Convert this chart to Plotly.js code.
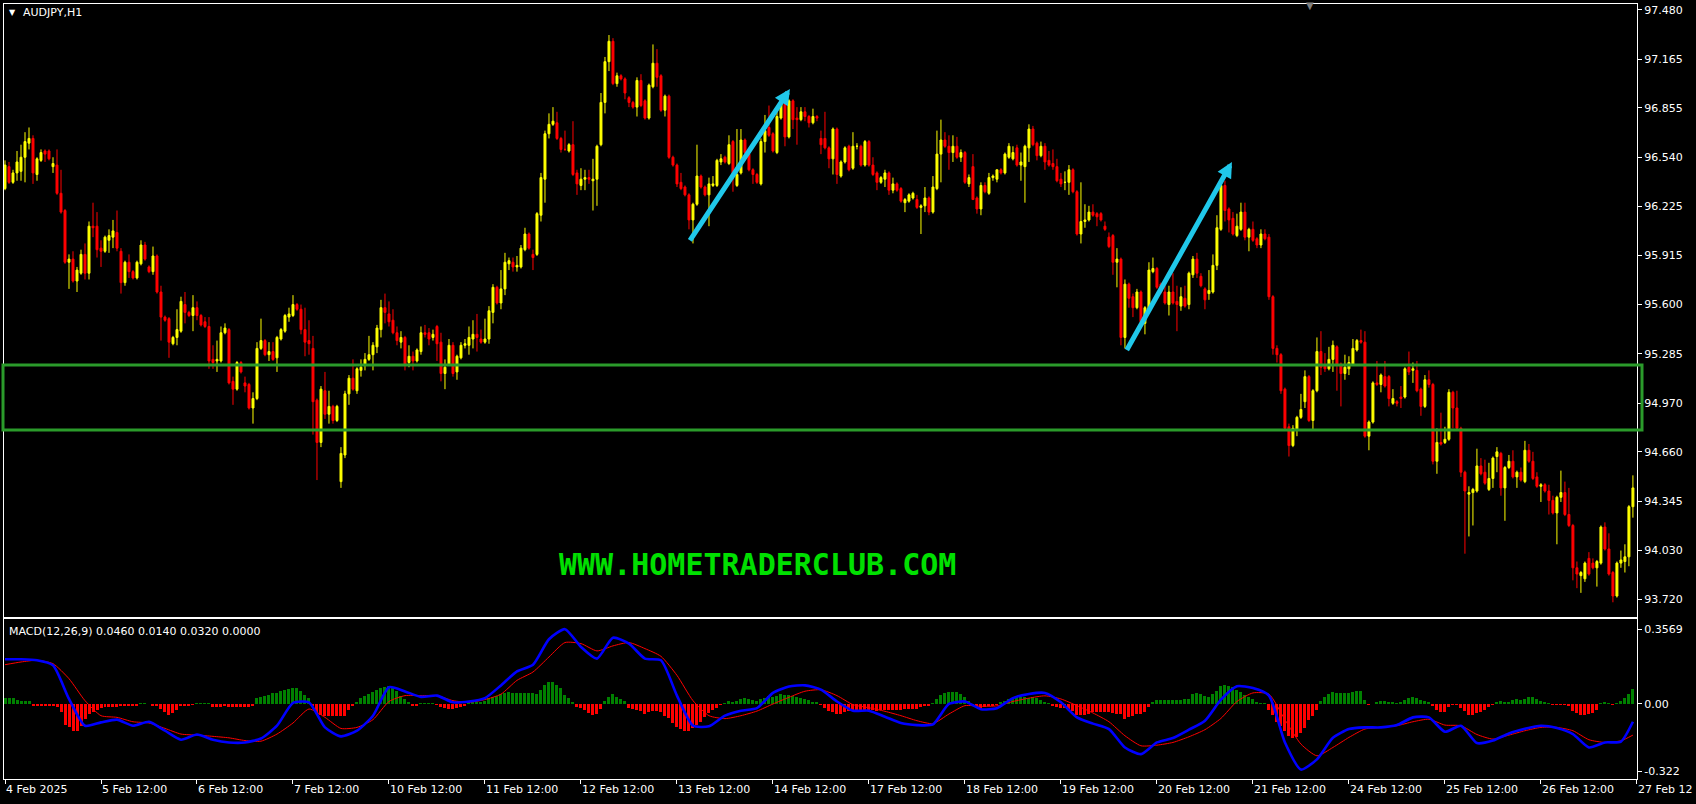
<!DOCTYPE html>
<html><head><meta charset="utf-8">
<script src="https://cdn.plot.ly/plotly-3.0.1.min.js"></script>
<style>html,body{margin:0;padding:0;background:#000;overflow:hidden}#chart{width:1696px;height:804px}</style>
</head><body><div id="chart"></div>
<script>
// ---- AUDJPY H1 candles (one per hour, bar 0 = 4 Feb 12:00) ----
const open=[
96.34,96.48,96.38,96.44,96.45,96.54,96.63,96.66,96.43,96.52,96.58,96.58,
96.48,96.49,96.31,96.20,95.87,95.89,95.75,95.80,95.92,95.80,96.10,96.10,
95.96,95.94,96.01,96.03,96.06,95.94,95.74,95.87,95.81,95.77,95.86,95.98,
95.84,95.81,95.91,95.68,95.52,95.51,95.35,95.39,95.43,95.60,95.55,95.53,
95.58,95.53,95.49,95.46,95.25,95.24,95.24,95.42,95.44,95.11,95.06,95.23,
95.10,95.09,94.94,95.00,95.32,95.37,95.28,95.30,95.26,95.38,95.43,95.52,
95.53,95.60,95.57,95.44,95.37,95.32,94.99,94.72,95.05,94.90,94.95,94.86,
94.47,94.64,95.03,95.13,95.05,95.18,95.22,95.25,95.28,95.33,95.44,95.58,
95.54,95.50,95.42,95.36,95.39,95.23,95.27,95.24,95.30,95.42,95.42,95.39,
95.46,95.36,95.16,95.22,95.34,95.17,95.26,95.34,95.34,95.38,95.41,95.38,
95.36,95.38,95.55,95.71,95.61,95.70,95.86,95.87,95.84,95.84,95.95,96.05,
95.92,95.92,96.17,96.40,96.69,96.75,96.76,96.66,96.59,96.58,96.62,96.44,
96.36,96.40,96.41,96.39,96.40,96.62,96.89,97.15,97.28,97.01,97.06,97.04,
96.92,96.89,96.86,97.03,96.90,96.79,96.99,97.14,97.06,96.84,96.93,96.54,
96.49,96.38,96.35,96.30,96.14,96.24,96.42,96.35,96.30,96.36,96.36,96.51,
96.54,96.50,96.64,96.36,96.44,96.65,96.56,96.46,96.43,96.37,96.64,96.73,
96.69,96.57,96.79,96.89,96.67,96.90,96.79,96.78,96.83,96.80,96.76,96.80,
96.66,96.66,96.60,96.53,96.72,96.42,96.51,96.61,96.47,96.61,96.61,96.49,
96.64,96.49,96.44,96.38,96.40,96.44,96.33,96.37,96.34,96.25,96.26,96.28,
96.27,96.22,96.23,96.28,96.19,96.34,96.56,96.65,96.61,96.57,96.61,96.54,
96.57,96.37,96.48,96.28,96.21,96.36,96.31,96.41,96.40,96.46,96.44,96.54,
96.53,96.60,96.49,96.48,96.60,96.72,96.63,96.55,96.61,96.52,96.50,96.48,
96.40,96.38,96.38,96.46,96.32,96.05,96.13,96.14,96.19,96.18,96.18,96.10,
96.03,96.04,95.87,95.89,95.39,95.73,95.65,95.58,95.68,95.48,95.57,95.81,
95.83,95.73,95.68,95.60,95.68,95.62,95.59,95.64,95.60,95.79,95.89,95.78,
95.70,95.67,95.68,95.85,96.08,96.36,96.21,96.15,96.04,96.08,96.19,96.03,
96.08,96.02,95.98,96.05,96.03,95.65,95.32,95.28,95.06,94.82,94.70,94.80,
94.88,94.98,95.14,94.86,95.05,95.30,95.21,95.19,95.25,95.33,95.22,95.16,
95.19,95.22,95.31,95.37,95.36,94.76,94.85,95.10,95.09,95.14,95.14,94.97,
94.98,95.01,95.01,95.20,95.18,95.18,95.06,94.95,95.12,95.09,94.60,94.72,
94.72,94.74,95.04,94.94,94.81,94.53,94.39,94.40,94.41,94.57,94.53,94.42,
94.49,94.63,94.65,94.43,94.56,94.60,94.50,94.53,94.47,94.67,94.60,94.50,
94.44,94.45,94.41,94.35,94.27,94.37,94.40,94.26,94.19,93.92,93.87,93.85,
93.98,93.95,93.92,93.95,94.18,94.04,93.89,93.74,93.95,93.96,93.99,94.31];
const high=[
96.52,96.51,96.46,96.58,96.62,96.70,96.73,96.68,96.54,96.59,96.59,96.59,
96.54,96.59,96.46,96.21,95.92,95.94,95.84,95.95,95.99,96.13,96.25,96.19,
96.01,96.04,96.08,96.14,96.20,95.96,95.88,95.92,95.82,95.88,96.01,96.00,
95.85,95.97,95.92,95.72,95.53,95.52,95.40,95.57,95.65,95.68,95.56,95.66,
95.62,95.54,95.52,95.52,95.34,95.37,95.46,95.48,95.45,95.14,95.24,95.24,
95.14,95.10,95.04,95.36,95.51,95.38,95.36,95.36,95.40,95.45,95.54,95.58,
95.66,95.61,95.60,95.58,95.50,95.40,95.00,95.08,95.17,95.05,94.96,94.96,
94.69,95.05,95.15,95.25,95.20,95.25,95.29,95.40,95.36,95.47,95.63,95.67,
95.62,95.57,95.46,95.43,95.40,95.34,95.30,95.32,95.46,95.47,95.45,95.44,
95.47,95.42,95.25,95.38,95.36,95.28,95.36,95.38,95.46,95.50,95.54,95.44,
95.51,95.59,95.73,95.72,95.82,95.93,95.90,95.90,95.91,95.98,96.09,96.06,
95.95,96.19,96.44,96.71,96.82,96.86,96.83,96.67,96.71,96.63,96.77,96.46,
96.47,96.46,96.46,96.53,96.62,96.95,97.18,97.32,97.30,97.08,97.07,97.05,
96.93,96.90,97.05,97.07,96.91,97.01,97.26,97.23,97.07,96.94,96.94,96.55,
96.50,96.44,96.36,96.31,96.25,96.62,96.43,96.36,96.41,96.42,96.53,96.56,
96.55,96.68,96.65,96.72,96.72,96.66,96.57,96.47,96.44,96.66,96.81,96.87,
96.70,96.86,96.91,96.90,96.91,96.91,96.86,96.86,96.86,96.81,96.85,96.81,
96.71,96.83,96.61,96.73,96.73,96.52,96.61,96.62,96.70,96.63,96.62,96.65,
96.65,96.54,96.45,96.42,96.46,96.45,96.41,96.38,96.35,96.28,96.31,96.32,
96.30,96.24,96.35,96.29,96.42,96.71,96.78,96.70,96.68,96.68,96.67,96.59,
96.58,96.43,96.56,96.29,96.38,96.38,96.44,96.43,96.46,96.47,96.57,96.63,
96.61,96.62,96.57,96.62,96.75,96.74,96.64,96.64,96.63,96.58,96.59,96.53,
96.44,96.45,96.49,96.47,96.33,96.38,96.24,96.23,96.24,96.19,96.19,96.13,
96.06,96.05,95.96,95.90,95.76,95.74,95.67,95.70,95.69,95.59,95.87,95.90,
95.84,95.74,95.72,95.72,95.80,95.72,95.71,95.72,95.81,95.91,95.93,95.80,
95.71,95.82,95.92,96.17,96.39,96.39,96.22,96.19,96.18,96.25,96.25,96.09,
96.13,96.03,96.08,96.08,96.05,95.66,95.34,95.29,95.07,94.84,94.83,94.89,
95.03,95.18,95.15,95.06,95.39,95.43,95.29,95.33,95.37,95.34,95.23,95.28,
95.27,95.38,95.38,95.44,95.43,94.86,95.11,95.24,95.16,95.24,95.15,95.06,
94.99,95.08,95.20,95.30,95.23,95.24,95.07,95.15,95.18,95.10,94.81,94.91,
94.82,95.06,95.05,95.05,94.82,94.54,94.44,94.43,94.68,94.62,94.61,94.59,
94.63,94.69,94.66,94.57,94.64,94.67,94.54,94.56,94.73,94.71,94.66,94.53,
94.46,94.46,94.45,94.38,94.38,94.54,94.47,94.43,94.20,93.96,93.90,93.96,
94.02,93.98,93.97,94.19,94.21,94.14,93.90,93.96,94.03,94.07,94.32,94.51];
const low=[
96.33,96.37,96.37,96.39,96.39,96.38,96.59,96.37,96.39,96.51,96.51,96.52,
96.44,96.30,96.18,95.86,95.70,95.74,95.68,95.79,95.76,95.76,96.03,95.90,
95.84,95.93,95.93,95.96,95.94,95.67,95.72,95.77,95.76,95.76,95.85,95.88,
95.80,95.79,95.67,95.37,95.49,95.26,95.34,95.34,95.42,95.48,95.52,95.43,
95.50,95.46,95.45,95.19,95.19,95.17,95.23,95.41,95.09,94.96,95.05,95.16,
95.04,94.93,94.84,94.99,95.31,95.27,95.24,95.24,95.17,95.37,95.42,95.49,
95.52,95.56,95.41,95.27,95.28,94.77,94.48,94.69,94.87,94.84,94.84,94.85,
94.43,94.62,94.96,95.05,95.03,95.14,95.18,95.24,95.18,95.29,95.39,95.48,
95.46,95.41,95.34,95.32,95.18,95.20,95.18,95.23,95.28,95.39,95.34,95.37,
95.24,95.11,95.06,95.21,95.14,95.12,95.25,95.32,95.28,95.32,95.30,95.35,
95.35,95.35,95.48,95.60,95.57,95.66,95.82,95.81,95.81,95.83,95.94,95.95,
95.82,95.91,96.13,96.25,96.66,96.74,96.65,96.57,96.58,96.57,96.42,96.30,
96.33,96.33,96.37,96.20,96.23,96.61,96.82,97.09,97.00,96.99,97.03,96.91,
96.86,96.85,96.80,96.86,96.78,96.78,96.98,96.99,96.83,96.80,96.53,96.48,
96.35,96.33,96.29,96.08,95.99,96.23,96.34,96.29,96.10,96.35,96.35,96.49,
96.50,96.49,96.32,96.35,96.43,96.56,96.45,96.37,96.37,96.36,96.57,96.67,
96.57,96.56,96.78,96.61,96.66,96.72,96.62,96.77,96.77,96.73,96.75,96.77,
96.56,96.59,96.47,96.43,96.37,96.41,96.50,96.45,96.46,96.59,96.48,96.48,
96.48,96.42,96.33,96.37,96.35,96.30,96.31,96.32,96.25,96.19,96.25,96.27,
96.21,96.05,96.19,96.17,96.18,96.33,96.38,96.60,96.46,96.51,96.53,96.51,
96.37,96.35,96.27,96.18,96.17,96.31,96.30,96.39,96.38,96.43,96.43,96.53,
96.52,96.48,96.39,96.25,96.51,96.61,96.52,96.54,96.46,96.48,96.46,96.38,
96.35,96.33,96.30,96.31,96.04,95.99,96.09,96.13,96.16,96.10,96.13,96.07,
95.96,95.79,95.71,95.34,95.32,95.58,95.52,95.57,95.47,95.41,95.56,95.80,
95.70,95.67,95.60,95.53,95.60,95.43,95.56,95.58,95.57,95.77,95.77,95.71,
95.57,95.63,95.67,95.82,96.07,96.13,96.06,96.04,96.03,96.07,96.01,95.94,
96.00,95.96,95.96,96.01,95.63,95.28,95.23,95.03,94.80,94.63,94.69,94.76,
94.87,94.94,94.85,94.80,95.04,95.15,95.17,95.18,95.17,95.05,94.95,95.12,
95.15,95.21,95.30,95.35,94.75,94.67,94.84,95.08,95.04,95.07,94.95,94.96,
94.95,94.94,95.00,95.15,95.10,95.04,94.89,94.94,95.07,94.58,94.52,94.70,
94.71,94.73,94.81,94.80,94.50,94.01,94.12,94.19,94.40,94.51,94.45,94.41,
94.43,94.53,94.38,94.22,94.55,94.49,94.43,94.47,94.46,94.59,94.48,94.43,
94.34,94.40,94.26,94.26,94.07,94.34,94.25,94.18,93.84,93.79,93.76,93.83,
93.87,93.91,93.80,93.94,94.03,93.87,93.70,93.73,93.92,93.89,93.93,94.24];
const close=[
96.49,96.38,96.44,96.51,96.54,96.64,96.66,96.44,96.53,96.57,96.56,96.53,
96.50,96.31,96.19,95.87,95.89,95.75,95.82,95.92,95.80,96.10,96.09,95.95,
95.94,96.03,96.04,96.07,95.96,95.74,95.87,95.81,95.77,95.87,95.98,95.89,
95.81,95.91,95.68,95.52,95.50,95.36,95.39,95.44,95.62,95.55,95.53,95.58,
95.53,95.47,95.46,95.24,95.23,95.25,95.42,95.45,95.10,95.06,95.23,95.17,
95.08,94.94,95.00,95.32,95.37,95.28,95.30,95.25,95.39,95.44,95.53,95.54,
95.60,95.57,95.44,95.36,95.35,94.98,94.72,95.06,94.90,94.95,94.86,94.95,
94.65,95.03,95.13,95.06,95.19,95.20,95.25,95.28,95.34,95.45,95.58,95.55,
95.49,95.42,95.37,95.39,95.22,95.27,95.24,95.31,95.42,95.41,95.38,95.41,
95.35,95.16,95.20,95.34,95.16,95.27,95.34,95.35,95.39,95.41,95.39,95.36,
95.38,95.56,95.71,95.61,95.70,95.87,95.88,95.84,95.85,95.96,96.05,95.96,
95.90,96.18,96.41,96.69,96.75,96.77,96.66,96.59,96.59,96.62,96.43,96.37,
96.40,96.41,96.40,96.40,96.61,96.89,97.15,97.28,97.01,97.06,97.04,96.95,
96.89,96.86,97.03,96.87,96.79,97.00,97.14,97.05,96.84,96.93,96.54,96.49,
96.37,96.34,96.30,96.14,96.24,96.42,96.35,96.30,96.37,96.37,96.52,96.53,
96.51,96.62,96.43,96.43,96.65,96.57,96.46,96.43,96.38,96.64,96.71,96.68,
96.58,96.80,96.89,96.67,96.90,96.78,96.78,96.83,96.80,96.76,96.80,96.79,
96.62,96.60,96.53,96.72,96.43,96.51,96.60,96.46,96.61,96.61,96.49,96.64,
96.49,96.43,96.38,96.41,96.44,96.33,96.37,96.33,96.26,96.27,96.30,96.31,
96.22,96.23,96.28,96.19,96.35,96.56,96.65,96.61,96.57,96.61,96.54,96.57,
96.38,96.41,96.27,96.21,96.36,96.32,96.41,96.42,96.46,96.44,96.56,96.61,
96.57,96.49,96.51,96.61,96.72,96.62,96.55,96.61,96.51,96.49,96.48,96.39,
96.37,96.38,96.46,96.32,96.05,96.13,96.14,96.19,96.17,96.16,96.14,96.08,
95.97,95.87,95.89,95.39,95.73,95.64,95.58,95.68,95.49,95.58,95.82,95.83,
95.71,95.68,95.61,95.68,95.61,95.60,95.65,95.59,95.80,95.89,95.80,95.72,
95.63,95.69,95.85,96.09,96.36,96.20,96.14,96.05,96.10,96.19,96.03,96.08,
96.01,95.98,96.05,96.02,95.65,95.32,95.28,95.05,94.81,94.70,94.81,94.88,
94.93,95.14,94.86,95.05,95.30,95.20,95.19,95.25,95.34,95.22,95.16,95.20,
95.23,95.32,95.37,95.36,94.76,94.85,95.10,95.09,95.15,95.08,95.00,95.00,
94.97,95.00,95.19,95.17,95.19,95.05,94.95,95.12,95.09,94.60,94.72,94.71,
94.74,95.04,94.94,94.81,94.53,94.41,94.40,94.42,94.57,94.52,94.46,94.49,
94.62,94.66,94.43,94.56,94.60,94.50,94.53,94.48,94.67,94.60,94.49,94.44,
94.45,94.41,94.35,94.27,94.37,94.40,94.26,94.19,93.92,93.88,93.89,93.95,
93.88,93.92,93.96,94.18,94.04,93.88,93.74,93.95,93.97,93.99,94.31,94.43];

// ---- MACD(12,26,9): main & signal lines read every 4th bar (last = bar 407) ----
const macdMain=[
0.214,0.214,0.209,0.185,0.024,-0.104,-0.088,-0.075,-0.104,-0.085,
-0.128,-0.171,-0.146,-0.171,-0.184,-0.184,-0.165,-0.104,0.005,0.008,
-0.112,-0.155,-0.128,-0.056,0.08,0.06,0.034,0.04,0.008,0.012,
0.028,0.089,0.156,0.188,0.31,0.358,0.273,0.217,0.317,0.289,
0.217,0.209,0.04,-0.104,-0.107,-0.056,-0.032,-0.02,0.053,0.084,
0.089,0.069,0.012,-0.032,-0.032,-0.061,-0.091,-0.101,-0.098,0.0,
0.012,-0.025,-0.02,0.028,0.048,0.053,0.008,-0.064,-0.094,-0.12,
-0.208,-0.24,-0.184,-0.163,-0.123,-0.08,0.021,0.085,0.076,0.04,
-0.184,-0.314,-0.265,-0.162,-0.12,-0.112,-0.112,-0.101,-0.064,-0.064,
-0.133,-0.104,-0.187,-0.175,-0.141,-0.119,-0.104,-0.115,-0.144,-0.208,
-0.184,-0.18,-0.085];
const macdSignal=[
0.188,0.201,0.209,0.193,0.121,0.016,-0.056,-0.064,-0.085,-0.091,
-0.117,-0.144,-0.149,-0.155,-0.162,-0.175,-0.178,-0.144,-0.091,-0.024,
-0.064,-0.117,-0.112,-0.075,0.012,0.04,0.04,0.04,0.016,0.008,
0.021,0.047,0.113,0.153,0.225,0.294,0.289,0.254,0.278,0.294,
0.265,0.228,0.137,0.016,-0.056,-0.07,-0.056,-0.034,0.0,0.032,
0.061,0.068,0.04,-0.003,-0.018,-0.035,-0.056,-0.08,-0.094,-0.048,
-0.008,-0.011,-0.009,0.012,0.028,0.039,0.024,-0.008,-0.043,-0.085,
-0.152,-0.2,-0.197,-0.184,-0.157,-0.123,-0.069,0.012,0.053,0.047,
-0.075,-0.192,-0.248,-0.208,-0.16,-0.12,-0.112,-0.104,-0.085,-0.073,
-0.101,-0.104,-0.146,-0.168,-0.149,-0.128,-0.112,-0.112,-0.128,-0.171,
-0.184,-0.176,-0.149];
// histogram, one value per bar
const macdHist=[
.03,.03,.03,.02,.015,.015,.015,-.01,-.01,-.01,-.01,-.01,
-.01,-.016,-.04,-.10,-.11,-.13,-.13,-.105,-.07,-.05,-.04,-.03,
-.017,-.016,-.016,-.016,-.016,-.012,-.012,-.012,-.012,-.012,.003,.003,
.002,-.008,-.008,-.024,-.04,-.053,-.045,-.028,-.01,-.008,-.008,-.005,
.003,.003,.003,.003,-.016,-.016,-.016,-.01,-.016,-.016,-.016,-.016,
-.016,-.016,-.012,.03,.035,.04,.043,.053,.053,.064,.069,.072,
.075,.075,.064,.043,.03,-.01,-.045,-.053,-.056,-.056,-.056,-.056,
-.056,-.056,-.03,-.008,.011,.027,.04,.048,.058,.069,.075,.08,
.085,.08,.064,.04,.024,.011,-.011,-.008,.003,.003,.003,.003,
-.005,-.016,-.021,-.024,-.024,-.021,-.016,-.01,.011,.011,.011,.011,
.016,.027,.032,.04,.048,.053,.056,.053,.053,.053,.053,.053,
.053,.05,.069,.091,.104,.104,.091,.075,.043,.03,.01,-.015,
-.02,-.03,-.045,-.055,-.05,-.025,.015,.035,.047,.035,.025,.013,
-.02,-.025,-.027,-.035,-.047,-.04,-.032,-.032,-.04,-.056,-.069,-.09,
-.11,-.12,-.128,-.13,-.117,-.10,-.085,-.06,-.045,-.03,-.018,-.005,
.006,.016,.011,.016,.024,.027,.024,.02,.013,.024,.03,.037,
.032,.04,.048,.043,.043,.038,.032,.027,.026,.018,.011,.008,
-.005,-.02,-.032,-.04,-.048,-.048,-.04,-.035,-.03,-.028,-.03,-.027,
-.03,-.03,-.032,-.03,-.028,-.03,-.03,-.027,-.028,-.025,-.024,-.024,
-.024,-.016,-.011,-.011,.005,.024,.043,.053,.056,.056,.056,.048,
.032,.014,-.005,-.016,-.021,-.016,-.011,-.008,-.003,.008,.014,.024,
.029,.032,.033,.032,.031,.032,.027,.02,.011,.005,-.008,-.013,
-.019,-.021,-.024,-.032,-.053,-.053,-.053,-.048,-.037,-.037,-.037,-.037,
-.037,-.043,-.048,-.05,-.072,-.064,-.056,-.048,-.048,-.04,-.016,.011,
.021,.02,.021,.02,.019,.02,.021,.022,.025,.047,.053,.047,
.04,.035,.05,.063,.085,.092,.088,.082,.069,.056,.042,.035,
.024,.008,.005,.005,-.027,-.053,-.085,-.107,-.128,-.152,-.165,-.159,
-.14,-.114,-.075,-.056,-.027,.016,.034,.05,.058,.053,.053,.053,
.053,.056,.061,.064,.02,-.006,.002,.008,.016,.016,.011,.008,
.005,.008,.021,.027,.032,.027,.021,.014,.01,-.008,-.029,-.037,
-.037,-.016,-.005,-.004,-.018,-.035,-.051,-.053,-.043,-.037,-.027,-.014,
-.006,.01,.014,.011,.011,.021,.024,.021,.026,.035,.034,.024,
.016,.011,.005,-.005,-.005,-.006,-.005,-.011,-.032,-.043,-.053,-.051,
-.047,-.042,-.027,.005,.008,.003,-.005,.005,.014,.027,.047,.072];

// ---- axis labels (the last one is shown as far as it fits, like the reference) ----
const dateLabels=["4 Feb 2025","5 Feb 12:00","6 Feb 12:00","7 Feb 12:00","10 Feb 12:00","11 Feb 12:00",
"12 Feb 12:00","13 Feb 12:00","14 Feb 12:00","17 Feb 12:00","18 Feb 12:00","19 Feb 12:00",
"20 Feb 12:00","21 Feb 12:00","24 Feb 12:00","25 Feb 12:00","26 Feb 12:00","27 Feb 12"];
const priceTicks=[97.480,97.165,96.855,96.540,96.225,95.915,95.600,95.285,94.970,94.660,94.345,94.030,93.720];
const macdTicks=[0.3569,0.0,-0.322];
const macdTickText=["0.3569","0.00","-0.322"];

// drawn objects on the chart
const zoneLevels=[94.799,95.214];
const arrowTails=[[171,96.00],[280.25,95.30]];
const arrowHeads=[[196.25,96.975],[306.75,96.51]];

// ---- build ----
const N=close.length;
const bars=close.map((_,i)=>i);
const macdX=macdMain.map((_,k)=>k<macdMain.length-1?k*4:N-1);
const dateTickVals=dateLabels.map((_,k)=>k*24);

const W=1696,H=804,ML=4,MR=59,MT=4,MB=25;
const PW=W-ML-MR, PH=H-MT-MB;
const px=x=>(x-ML)/PW, py=y=>(H-MB-y)/PH;

const WHITE='#ffffff';
const fnt={family:'DejaVu Sans',size:11,color:WHITE};

const traces=[
{type:'candlestick',x:bars,open:open,high:high,low:low,close:close,xaxis:'x',yaxis:'y',
 increasing:{line:{color:'#ffff00',width:1},fillcolor:'#ffff00'},
 decreasing:{line:{color:'#ff0000',width:1},fillcolor:'#ff0000'},
 whiskerwidth:0,hoverinfo:'skip',showlegend:false},
{type:'bar',x:bars,y:macdHist,xaxis:'x2',yaxis:'y2',width:0.75,
 marker:{color:macdHist.map(v=>v>=0?'#008000':'#ff0000'),line:{width:0}},hoverinfo:'skip',showlegend:false},
{type:'scatter',mode:'lines',x:macdX,y:macdSignal,xaxis:'x2',yaxis:'y2',line:{color:'#ff0000',width:1,shape:'spline',smoothing:0.6},hoverinfo:'skip',showlegend:false},
{type:'scatter',mode:'lines',x:macdX,y:macdMain,xaxis:'x2',yaxis:'y2',line:{color:'#0000ff',width:2.6,shape:'spline',smoothing:0.6},hoverinfo:'skip',showlegend:false}
];

const mainTop=1, mainBot=(H-MB-617)/PH, macdTop=(H-MB-619)/PH;
const xr=[-0.25,408.02];

const annotations=[
 {xref:'paper',yref:'paper',x:px(12),y:py(12),text:'▼',showarrow:false,font:{family:'DejaVu Sans',size:8,color:WHITE},xanchor:'center',yanchor:'middle'},
 {xref:'paper',yref:'paper',x:px(21),y:py(12),text:'AUDJPY,H1',showarrow:false,font:fnt,xanchor:'left',yanchor:'middle'},
 {xref:'paper',yref:'paper',x:px(1310),y:py(6),text:'▼',showarrow:false,font:{family:'DejaVu Sans',size:10,color:'#808080'},xanchor:'center',yanchor:'middle'},
 {xref:'paper',yref:'paper',x:px(7),y:py(631),text:'MACD(12,26,9) 0.0460 0.0140 0.0320 0.0000',showarrow:false,font:fnt,xanchor:'left',yanchor:'middle'},
 {xref:'paper',yref:'paper',x:px(757),y:py(564.5),text:'WWW.HOMETRADERCLUB.COM',showarrow:false,
  font:{family:'DejaVu Sans Mono',size:30,color:'#00e000',weight:'bold'},xanchor:'center',yanchor:'middle'}
];
arrowTails.forEach((t,k)=>{
 annotations.push({xref:'x',yref:'y',axref:'x',ayref:'y',x:arrowHeads[k][0],y:arrowHeads[k][1],ax:t[0],ay:t[1],
  text:'',showarrow:true,arrowhead:2,arrowsize:0.62,arrowwidth:5,arrowcolor:'#20c8ea',standoff:0,startstandoff:0});
});

const axCommon={showgrid:false,zeroline:false,showline:true,mirror:true,linecolor:WHITE,linewidth:1,fixedrange:true};

const layout={
 width:W,height:H,paper_bgcolor:'#000000',plot_bgcolor:'#000000',
 margin:{l:ML,r:MR,t:MT,b:MB,pad:0},showlegend:false,
 font:fnt,boxgap:0.3,boxgroupgap:0.3,bargap:0,
 xaxis:Object.assign({},axCommon,{domain:[0,1],anchor:'y',range:xr,showticklabels:false,ticks:'',rangeslider:{visible:false}}),
 xaxis2:Object.assign({},axCommon,{domain:[0,1],anchor:'y2',range:xr,matches:'x',tickmode:'array',tickvals:dateTickVals,ticktext:dateLabels,
   ticks:'outside',ticklen:4,tickcolor:WHITE,tickwidth:1,ticklabelposition:'outside right',ticklabeloverflow:'allow',tickfont:fnt,rangeslider:{visible:false}}),
 yaxis:Object.assign({},axCommon,{domain:[mainBot,mainTop],anchor:'x',side:'right',range:[93.606,97.518],tickmode:'array',
   tickvals:priceTicks,ticktext:priceTicks.map(v=>v.toFixed(3)),ticks:'outside',ticklen:4,tickcolor:WHITE,tickfont:fnt}),
 yaxis2:Object.assign({},axCommon,{domain:[0,macdTop],anchor:'x2',side:'right',range:[-0.359,0.4067],tickmode:'array',
   tickvals:macdTicks,ticktext:macdTickText,ticks:'outside',ticklen:4,tickcolor:WHITE,tickfont:fnt}),
 shapes:[{type:'rect',xref:'paper',yref:'y',x0:px(3),x1:px(1642),y0:zoneLevels[0],y1:zoneLevels[1],
   line:{color:'#2b9b2b',width:3},fillcolor:'rgba(0,0,0,0)',layer:'above'}],
 annotations:annotations
};

Plotly.newPlot('chart',traces,layout,{staticPlot:true,displayModeBar:false});
const lens=[open.length,high.length,low.length,close.length,macdHist.length,macdMain.length,macdSignal.length];
if(lens.slice(0,5).some(l=>l!==408)||macdMain.length!==103||macdSignal.length!==103){throw new Error('length mismatch '+lens.join(','));}
</script>
</body></html>
